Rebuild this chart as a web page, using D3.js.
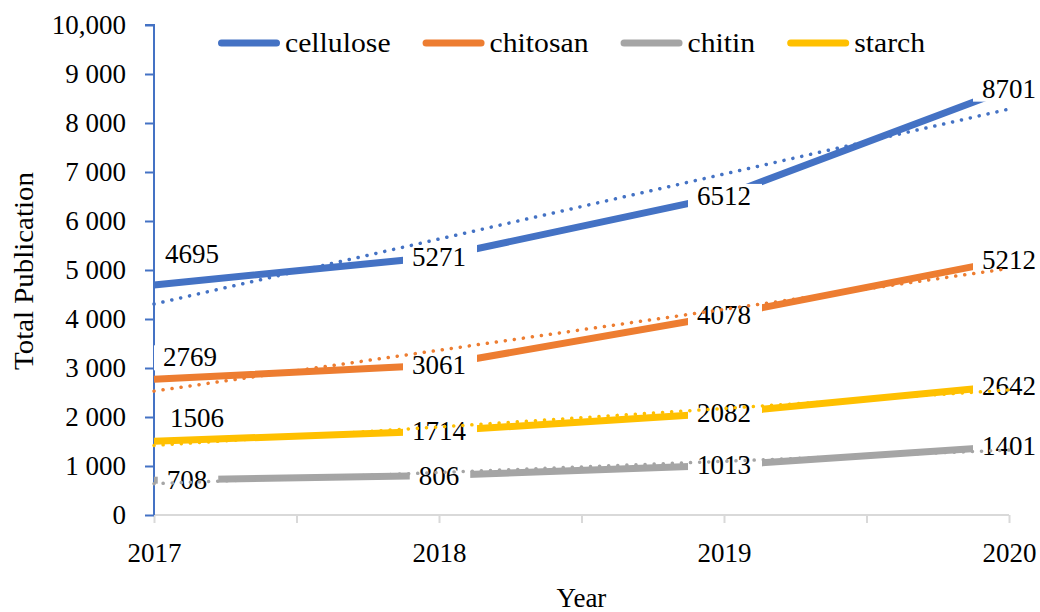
<!DOCTYPE html>
<meta charset="utf-8">
<title>Total Publication</title>
<script src="https://d3js.org/d3.v7.min.js"></script>
<style>
    body { margin: 0; background: #fff; }
    text { font-family: "Liberation Serif", "Times New Roman", serif; fill: #000; }
</style>
<body>
<script>

    // Data
    const years = [2017, 2018, 2019, 2020];
    const cellulose = [4695, 5271, 6512, 8701];
    const chitosan  = [2769, 3061, 4078, 5212];
    const chitin    = [708, 806, 1013, 1401];
    const starch    = [1506, 1714, 2082, 2642];
    const seriesNames = ["cellulose", "chitosan", "chitin", "starch"];
    const yTicks = [0, 1000, 2000, 3000, 4000, 5000, 6000, 7000, 8000, 9000, 10000];
    const yTickLabels = ["0", "1 000", "2 000", "3 000", "4 000", "5 000", "6 000", "7 000", "8 000", "9 000", "10,000"];

    const colors = { cellulose: "#4472C4", chitosan: "#ED7D31", chitin: "#A5A5A5", starch: "#FFC000" };
    const values = { cellulose, chitosan, chitin, starch };

    // labels at 2017 sit beside the point, not on it
    const firstLabelShift = { cellulose: [38, -31], chitosan: [36, -22], chitin: [33, 0], starch: [43, -23] };

    // SVG constraints
    const width  = 1040;
    const height = 612;
    const plotL = 154, plotR = 1009, plotT = 25, plotB = 515;
    const fontSize = "27px";
    const widen = 1.1;   // the original serif runs wider than Liberation Serif

    const svg = d3.select("body").append("svg")
        .attr("width", width)
        .attr("height", height);

    const xScale = d3.scaleLinear().domain([2017, 2020]).range([plotL, plotR]);
    const yScale = d3.scaleLinear().domain([0, 10000]).range([plotB, plotT]);

    // X axis (ticks every half year, labels on years)
    const xAxis = d3.axisBottom(xScale)
        .tickValues(d3.range(2017, 2020.01, 0.5))
        .tickSize(8)
        .tickPadding(20)
        .tickFormat(d => Number.isInteger(d) ? d : "");
    const gx = svg.append("g")
        .attr("transform", "translate(0," + plotB + ")")
        .call(xAxis);
    gx.selectAll("path, line").attr("stroke", "#D9D9D9").attr("stroke-width", 2);
    gx.select(".domain").attr("d", "M" + plotL + ",0H" + plotR);
    gx.selectAll("text").style("font-size", fontSize).attr("font-family", null);

    // Y axis
    const yAxis = d3.axisLeft(yScale)
        .tickValues(yTicks)
        .tickSize(9)
        .tickPadding(19)
        .tickFormat((d, i) => yTickLabels[i]);
    const gy = svg.append("g")
        .attr("transform", "translate(" + plotL + ",0)")
        .call(yAxis);
    gy.selectAll("path, line").attr("stroke", "#4472C4").attr("stroke-width", 2);
    gy.select(".domain").attr("d", "M-9," + plotT + "H0V" + plotB);
    gy.selectAll("text").style("font-size", fontSize).attr("font-family", null);

    // Axis titles
    const yTitle = svg.append("text")
        .attr("transform", "translate(33,271) rotate(-90)")
        .attr("text-anchor", "middle")
        .style("font-size", fontSize)
        .text("Total Publication");
    yTitle.attr("textLength", yTitle.node().getComputedTextLength() * 1.07)
        .attr("lengthAdjust", "spacingAndGlyphs");
    svg.append("text")
        .attr("x", (plotL + plotR) / 2)
        .attr("y", 607)
        .attr("text-anchor", "middle")
        .style("font-size", fontSize)
        .text("Year");

    const line = d3.line()
        .x((d, i) => xScale(years[i]))
        .y(d => yScale(d));

    // Series lines
    svg.append("g").selectAll("path")
        .data(seriesNames)
        .join("path")
        .attr("d", s => line(values[s]))
        .attr("fill", "none")
        .attr("stroke", s => colors[s])
        .attr("stroke-width", 7);

    // Data labels with white boxes
    const labels = svg.append("g");
    seriesNames.forEach(s => {
        values[s].forEach((v, i) => {
            const shift = i === 0 ? firstLabelShift[s] : [0, 0];
            const cx = xScale(years[i]) + shift[0];
            const cy = yScale(v) + shift[1];
            const g = labels.append("g");
            const t = g.append("text")
                .attr("x", cx)
                .attr("y", cy + 9)
                .attr("text-anchor", "middle")
                .style("font-size", fontSize)
                .text(v);
            const w = t.node().getComputedTextLength();
            g.insert("rect", "text")
                .attr("x", cx - w / 2 - 9)
                .attr("y", cy - 12)
                .attr("width", w + 20)
                .attr("height", 25)
                .attr("fill", "#fff");
        });
    });

    // Linear trend lines (least squares)
    const trend = ys => {
        const mx = d3.mean(years), my = d3.mean(ys);
        const b = d3.sum(years, (x, i) => (x - mx) * (ys[i] - my)) / d3.sum(years, x => (x - mx) ** 2);
        return [years[0], years[years.length - 1]].map(x => [x, my + b * (x - mx)]);
    };
    svg.append("g").selectAll("path")
        .data(seriesNames)
        .join("path")
        .attr("d", s => d3.line().x(d => xScale(d[0])).y(d => yScale(d[1]))(trend(values[s])))
        .attr("fill", "none")
        .attr("stroke", s => colors[s])
        .attr("stroke-width", 3.5)
        .attr("stroke-linecap", "round")
        .attr("stroke-dasharray", "0.1 9");

    // Legend
    const legend = svg.append("g").attr("transform", "translate(218,43)");
    let lx = 0;
    seriesNames.forEach(s => {
        legend.append("line")
            .attr("x1", lx + 3.5).attr("x2", lx + 58.5)
            .attr("stroke", colors[s])
            .attr("stroke-width", 7)
            .attr("stroke-linecap", "round");
        const t = legend.append("text")
            .attr("x", lx + 67)
            .attr("y", 9)
            .style("font-size", fontSize)
            .text(s);
        const w = t.node().getComputedTextLength() * widen;
        t.attr("textLength", w).attr("lengthAdjust", "spacingAndGlyphs");
        lx += 67 + w + 32;
    });

</script>
</body>
